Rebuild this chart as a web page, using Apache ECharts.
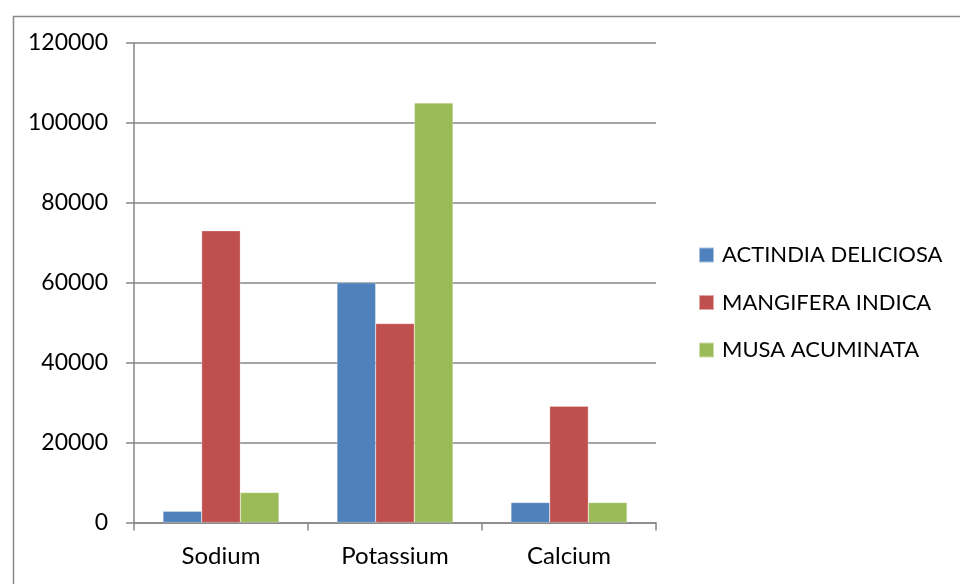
<!DOCTYPE html>
<html>
<head>
<meta charset="utf-8">
<script src="https://cdn.jsdelivr.net/npm/echarts@6/dist/echarts.min.js"></script>
<style>html,body{margin:0;padding:0;background:#fff}#c{width:960px;height:584px}</style>
</head>
<body>
<div id="c"></div>
<script>
const categories = ['Sodium', 'Potassium', 'Calcium'];
const seriesNames = ['ACTINDIA DELICIOSA', 'MANGIFERA INDICA', 'MUSA ACUMINATA'];
const actindia = [2800, 60000, 5000];
const mangifera = [73000, 49800, 29100];
const musa = [7500, 105000, 5000];
const colors = ['#4F81BD', '#C0504D', '#9BBB59'];
const FONT = 'Lato';

const chart = echarts.init(document.getElementById('c'), null, {renderer: 'canvas'});
const values = [actindia, mangifera, musa];
chart.setOption({
  animation: false,
  textStyle: {fontFamily: FONT},
  graphic: [{
    type: 'rect', left: 11, top: 14,
    shape: {x: 0, y: 0, width: 960, height: 600},
    style: {fill: 'none', stroke: '#898989', lineWidth: 1.5}, silent: true
  }],
  grid: {left: 134, right: 304, top: 43, bottom: 61.5, containLabel: false},
  legend: {
    orient: 'vertical', left: 698, top: 243, padding: 0,
    itemWidth: 15, itemHeight: 15, itemGap: 23.5,
    icon: 'rect',
    textStyle: {fontFamily: FONT, fontSize: 22, lineHeight: 24, color: '#000', padding: [0, 0, 0, 3]},
    data: seriesNames
  },
  xAxis: {
    type: 'category', data: categories,
    axisLine: {show: true, lineStyle: {color: '#868686', width: 1.5}},
    axisTick: {show: true, length: 8, lineStyle: {color: '#868686', width: 1.5}},
    axisLabel: {fontFamily: FONT, fontSize: 24, color: '#000', margin: 22}
  },
  yAxis: {
    type: 'value', min: 0, max: 120000, interval: 20000,
    axisLine: {show: true, lineStyle: {color: '#868686', width: 1.5}},
    axisTick: {show: true, length: 8, lineStyle: {color: '#868686', width: 1.5}},
    splitLine: {show: true, lineStyle: {color: '#868686', width: 1.5}},
    axisLabel: {fontFamily: FONT, fontSize: 23, color: '#000', margin: 26, formatter: v => String(v)}
  },
  series: seriesNames.map((n, i) => ({
    name: n, type: 'bar', data: values[i],
    barGap: '0%', barCategoryGap: '33.3%',
    itemStyle: {color: colors[i], borderColor: 'rgba(255,255,255,0.5)', borderWidth: 0.5}
  }))
});
</script>
</body>
</html>
